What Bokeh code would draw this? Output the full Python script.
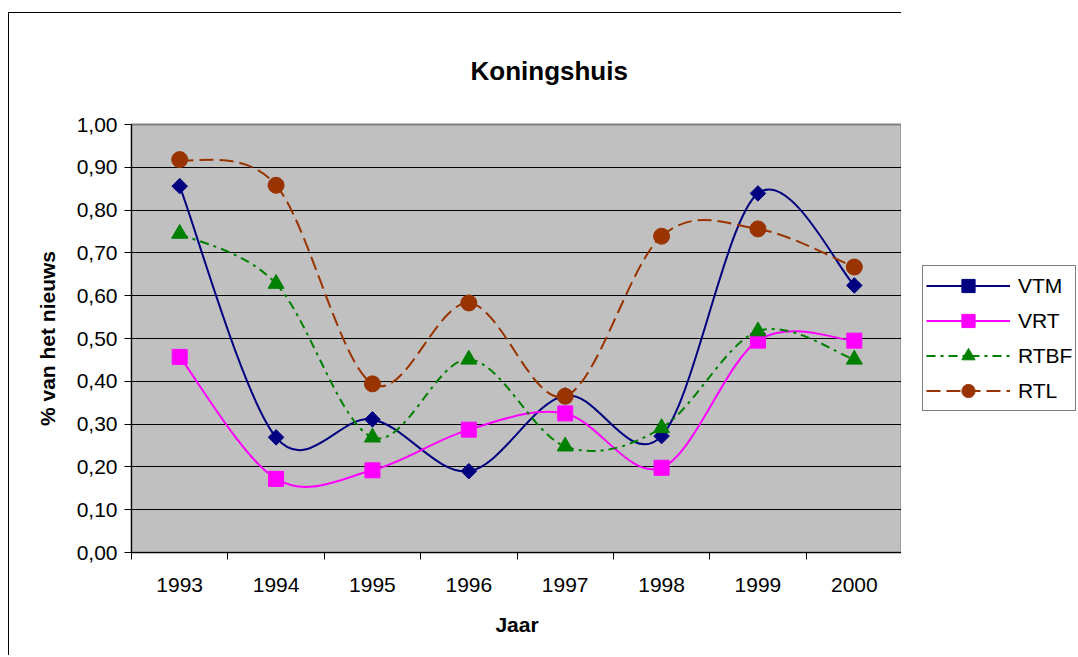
import numpy as np
from bokeh.plotting import figure
from bokeh.layouts import row
from bokeh.models import (Range1d, FixedTicker, CustomJSTickFormatter, Legend, LegendItem, Title)
from bokeh.embed import file_html
from bokeh.resources import INLINE

# ---- data ----
years = ["1993", "1994", "1995", "1996", "1997", "1998", "1999", "2000"]
vtm = [0.856, 0.269, 0.311, 0.190, 0.367, 0.272, 0.839, 0.624]
vrt = [0.457, 0.172, 0.192, 0.287, 0.325, 0.198, 0.495, 0.495]
rtbf = [0.745, 0.628, 0.269, 0.451, 0.248, 0.291, 0.517, 0.451]
rtl = [0.918, 0.858, 0.394, 0.583, 0.365, 0.739, 0.756, 0.667]
y_ticks = [0.0, 0.1, 0.2, 0.3, 0.4, 0.5, 0.6, 0.7, 0.8, 0.9, 1.0]

title_text = "Koningshuis"
x_title = "Jaar"
y_title = "% van het nieuws"

FONT = "Liberation Sans"

p = figure(width=893, height=643, output_backend="svg", toolbar_location=None,
           x_range=Range1d(-0.5, len(years) - 0.5), y_range=Range1d(0, 1),
           min_border_left=122, min_border_right=0, min_border_top=111, min_border_bottom=104)
p.margin = (12, 0, 0, 8)
p.styles = {"border-top": "1px solid #000000", "border-left": "1px solid #000000"}

p.background_fill_color = "#C0C0C0"
p.border_fill_color = "white"
p.outline_line_color = "#808080"
p.outline_line_width = 2
p.title.visible = False

# title
ttl = Title(text=title_text, align="left", offset=339, vertical_align="bottom",
            text_font=FONT, text_font_size="26px", text_font_style="bold",
            text_color="#000000", standoff=78)
p.add_layout(ttl, "above")

# grid
p.xgrid.visible = False
p.ygrid.ticker = FixedTicker(ticks=y_ticks)
p.ygrid.grid_line_color = "#000000"
p.ygrid.grid_line_width = 1

# axes
xax = p.below[0]
xax.ticker = FixedTicker(ticks=list(range(len(years))),
                         minor_ticks=[i - 0.5 for i in range(len(years) + 1)])
xax.major_label_overrides = {i: y for i, y in enumerate(years)}
xax.major_tick_out = 0
xax.major_tick_in = 0
xax.minor_tick_out = 7
xax.minor_tick_in = 0
xax.minor_tick_line_color = "#000000"
xax.axis_line_color = "#000000"
xax.axis_line_width = 1
xax.major_label_text_font = FONT
xax.major_label_text_font_size = "21px"
xax.major_label_text_color = "#000000"
xax.major_label_standoff = 18
xax.axis_label = x_title
xax.axis_label_text_font = FONT
xax.axis_label_text_font_size = "21px"
xax.axis_label_text_font_style = "bold"
xax.axis_label_text_color = "#000000"
xax.axis_label_standoff = 18

yax = p.left[0]
yax.ticker = FixedTicker(ticks=y_ticks)
yax.formatter = CustomJSTickFormatter(code="return tick.toFixed(2).replace('.', ',');")
yax.major_tick_out = 7
yax.major_tick_in = 0
yax.minor_tick_out = 0
yax.minor_tick_in = 0
yax.axis_line_color = "#000000"
yax.major_tick_line_color = "#000000"
yax.major_label_text_font = FONT
yax.major_label_text_font_size = "21px"
yax.major_label_text_color = "#000000"
yax.major_label_standoff = 7
yax.axis_label = y_title
yax.axis_label_text_font = FONT
yax.axis_label_text_font_size = "21px"
yax.axis_label_text_font_style = "bold"
yax.axis_label_text_color = "#000000"
yax.axis_label_standoff = 15


def smooth_segments(vals):
    """Bezier control points (Catmull-Rom style, as in Excel smoothed lines)."""
    xs = np.arange(len(vals), dtype=float)
    ys = np.asarray(vals, dtype=float)
    n = len(ys)
    d = dict(x0=[], y0=[], x1=[], y1=[], cx0=[], cy0=[], cx1=[], cy1=[])
    for i in range(n - 1):
        a = max(i - 1, 0)
        b = min(i + 2, n - 1)
        d["x0"].append(xs[i]); d["y0"].append(ys[i])
        d["x1"].append(xs[i + 1]); d["y1"].append(ys[i + 1])
        d["cx0"].append(xs[i] + (xs[i + 1] - xs[a]) / 6)
        d["cy0"].append(ys[i] + (ys[i + 1] - ys[a]) / 6)
        d["cx1"].append(xs[i + 1] - (xs[b] - xs[i]) / 6)
        d["cy1"].append(ys[i + 1] - (ys[b] - ys[i]) / 6)
    return d


series = [
    ("VTM", vtm, "#000080", "solid", "square", 11, np.pi / 4),
    ("VRT", vrt, "#FF00FF", "solid", "square", 15, 0.0),
    ("RTBF", rtbf, "#008000", "9 5 3 5", "triangle", 16, 0.0),
    ("RTL", rtl, "#993300", "14 6", "circle", 16, 0.0),
]

# legend panel (separate small figure, to the right of the plot)
pl = figure(width=176, height=643, output_backend="svg", toolbar_location=None,
            x_axis_type=None, y_axis_type=None,
            x_range=Range1d(-0.5, len(years) - 0.5), y_range=Range1d(0, 1),
            min_border_left=0, min_border_right=0, min_border_top=0, min_border_bottom=0)
pl.margin = (13, 0, 0, 0)
pl.outline_line_color = None
pl.background_fill_color = "white"
pl.border_fill_color = "white"
pl.xgrid.visible = False
pl.ygrid.visible = False
pl.title.visible = False

items = []
xs_idx = list(range(len(years)))
for name, vals, color, dash, marker, size, ang in series:
    seg = smooth_segments(vals)
    kw_line = dict(line_color=color, line_width=2, line_dash=dash)
    kw_mark = dict(marker=marker, size=size, angle=ang, fill_color=color, line_color=color)
    p.bezier(**seg, **kw_line)
    p.scatter(x=xs_idx, y=vals, **kw_mark)
    # hidden copies in the legend panel: only their legend swatches are drawn
    lb = pl.bezier(**seg, **kw_line, visible=False)
    ls = pl.scatter(x=xs_idx, y=vals, **kw_mark, visible=False)
    items.append(LegendItem(label=name, renderers=[lb, ls]))

legend = Legend(items=items, location=(21, 141), orientation="vertical",
                glyph_width=84, glyph_height=33, spacing=2, padding=3, margin=0,
                label_standoff=8, label_text_font=FONT, label_text_font_size="21px",
                label_text_color="#000000", label_height=33,
                border_line_color="#000000", border_line_width=1,
                background_fill_color="white", background_fill_alpha=1)
pl.add_layout(legend, "center")

layout = row(p, pl, spacing=0)
open("out.html", "w").write(file_html(layout, INLINE))
